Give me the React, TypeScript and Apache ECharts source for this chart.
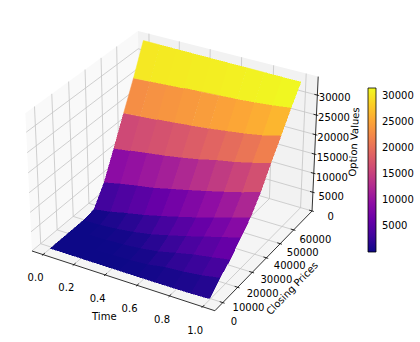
import React, { useEffect, useRef } from "react";
import * as echarts from "echarts";

// ---------- data ----------
const times = [0, 0.111, 0.222, 0.333, 0.444, 0.556, 0.667, 0.778, 0.889, 1];
const prices = [9200, 15990, 22780, 29570, 36360, 43150, 49940, 56730, 63520, 70310];
const z0 = [0, 0, 0, 0, 0, 5, 20, 60, 130, 300];
const z1 = [0, 0, 0, 40, 150, 450, 1250, 1550, 2100, 2950];
const z2 = [0, 0, 60, 250, 650, 1300, 2400, 3400, 4150, 4980];
const z3 = [0, 120, 480, 1050, 1850, 3000, 4200, 5500, 6800, 8040];
const z4 = [500, 1200, 2200, 3100, 4200, 5400, 6600, 7900, 9300, 10800];
const z5 = [5300, 6300, 7100, 7850, 8900, 9950, 11050, 12200, 13400, 14880];
const z6 = [12170, 12750, 13400, 14000, 14750, 15600, 16700, 17500, 18600, 19800];
const z7 = [19270, 19600, 19950, 20350, 20800, 21300, 21900, 22500, 23300, 24420];
const z8 = [26280, 26550, 26850, 27100, 27350, 27600, 27850, 28200, 28650, 29230];
const z9 = [33900, 33870, 33830, 33800, 33770, 33730, 33700, 33670, 33630, 33600];
const zRows = [z0, z1, z2, z3, z4, z5, z6, z7, z8, z9];

const timeTicks = [0, 0.2, 0.4, 0.6, 0.8, 1];
const priceTicks = [0, 10000, 20000, 30000, 40000, 50000, 60000];
const zTicks = [0, 5000, 10000, 15000, 20000, 25000, 30000];
const barTicks = [5000, 10000, 15000, 20000, 25000, 30000];
const plasma = ["#0d0887", "#41049d", "#6a00a8", "#8f0da4", "#b12a90", "#cc4778", "#e16462", "#f2844b", "#fca636", "#fcce25", "#f0f921"];

// ---------- matplotlib-like 3D projection ----------
const tLim = [-0.05, 1.05];
const pLim = [6200, 72700];
const zLim = [680, 33900];
const barMin = 0;
const barMax = 31400;
const PAD = 1 / 48;
const box = [1.143, 1.143, 0.857];
const n = [0.433, -0.75, 0.5];
const u = [0.866, 0.5, 0];
const v = [-0.25, 0.433, 0.866];
const dist = 10;
const SCALE = 176;
const CX = 174.6;
const CY = 164.1;

function projN(a: number, b: number, c: number): [number, number, number] {
  const p = [(a - 0.5) * box[0], (b - 0.5) * box[1], (c - 0.5) * box[2]];
  const X = u[0] * p[0] + u[1] * p[1] + u[2] * p[2];
  const Y = v[0] * p[0] + v[1] * p[1] + v[2] * p[2];
  const d = n[0] * p[0] + n[1] * p[1] + n[2] * p[2];
  const f = dist / (dist - d);
  return [CX + SCALE * X * f, CY - SCALE * Y * f, d];
}
const nt = (t: number) => (t - tLim[0]) / (tLim[1] - tLim[0]);
const np = (p: number) => (p - pLim[0]) / (pLim[1] - pLim[0]);
const nz = (z: number) => (z - zLim[0]) / (zLim[1] - zLim[0]);
const project = (t: number, p: number, z: number) => projN(nt(t), np(p), nz(z));

function hex(c: string) {
  return [1, 3, 5].map((i) => parseInt(c.slice(i, i + 2), 16));
}
function colorOf(val: number) {
  const f = Math.max(0, Math.min(1, (val - barMin) / (barMax - barMin))) * (plasma.length - 1);
  const i = Math.min(plasma.length - 2, Math.floor(f));
  const a = hex(plasma[i]);
  const b = hex(plasma[i + 1]);
  const w = f - i;
  return `rgb(${a.map((x, k) => Math.round(x + (b[k] - x) * w)).join(",")})`;
}

const TXT = "10px 'DejaVu Sans'";
const lo = -PAD;
const hi = 1 + PAD;

function seg(a: number[], b: number[], stroke: string, lineWidth: number) {
  return {
    type: "line",
    silent: true,
    shape: { x1: a[0], y1: a[1], x2: b[0], y2: b[1] },
    style: { stroke, lineWidth },
  };
}
function pane(points: number[][], fill: string) {
  return { type: "polygon", silent: true, shape: { points: points.map((q) => q.slice(0, 2)) }, style: { fill } };
}
function label(text: string, x: number, y: number, rotation = 0) {
  return {
    type: "text",
    silent: true,
    x,
    y,
    rotation,
    style: { text, x: 0, y: 0, textAlign: "center", textVerticalAlign: "middle", font: TXT, fill: "#000" },
  };
}

function buildFrame() {
  const P = (a: number, b: number, c: number) => projN(a, b, c);
  const kids: any[] = [];
  kids.push(pane([P(lo, lo, lo), P(lo, lo, hi), P(lo, hi, hi), P(lo, hi, lo)], "#f9f9f9"));
  kids.push(pane([P(lo, hi, lo), P(lo, hi, hi), P(hi, hi, hi), P(hi, hi, lo)], "#f2f2f2"));
  kids.push(pane([P(lo, lo, lo), P(hi, lo, lo), P(hi, hi, lo), P(lo, hi, lo)], "#f5f5f5"));
  const GRID = "#c4c4c4";
  const GW = 0.8;
  const INW = 0.2 / 12;
  const OUT = 0.1 / 12;
  const AX = "#000";
  timeTicks.forEach((t) => {
    const a = nt(t);
    kids.push(seg(P(a, lo, lo), P(a, hi, lo), GRID, GW));
    kids.push(seg(P(a, hi, lo), P(a, hi, hi), GRID, GW));
  });
  priceTicks.forEach((p) => {
    const b = np(p);
    if (b < lo) return;
    kids.push(seg(P(lo, b, lo), P(hi, b, lo), GRID, GW));
    kids.push(seg(P(lo, b, lo), P(lo, b, hi), GRID, GW));
  });
  zTicks.forEach((z) => {
    const c = nz(z);
    kids.push(seg(P(lo, lo, c), P(lo, hi, c), GRID, GW));
    kids.push(seg(P(lo, hi, c), P(hi, hi, c), GRID, GW));
  });
  kids.push(seg(P(lo, lo, lo), P(hi, lo, lo), AX, 0.8));
  kids.push(seg(P(hi, lo, lo), P(hi, hi, lo), AX, 0.8));
  kids.push(seg(P(hi, hi, lo), P(hi, hi, hi), AX, 0.8));
  timeTicks.forEach((t) => {
    const a = nt(t);
    kids.push(seg(P(a, lo - OUT * 1.2, lo), P(a, lo + INW, lo), AX, 0.8));
    const q = P(a, lo, lo);
    kids.push(label(t.toFixed(1), q[0] - 7.5, q[1] + 23.3));
  });
  priceTicks.forEach((p, i) => {
    const b = np(p);
    if (b >= lo) kids.push(seg(P(hi + OUT * 1.2, b, lo), P(hi - INW, b, lo), AX, 0.8));
    const q = P(hi, b, lo);
    kids.push(label(String(p), q[0] + 26.5 - 0.8 * i, q[1] + 3.5 + 1.1 * i));
  });
  zTicks.forEach((z, i) => {
    const c = nz(z);
    kids.push(seg(P(hi + OUT * 1.2, hi, c), P(hi - INW, hi, c), AX, 0.8));
    const q = P(hi, hi, c);
    kids.push(label(String(z), q[0] + 18.5 - 0.2 * i, q[1] + 5.2 - 0.5 * i));
  });
  kids.push(label("Time", 104.3, 316));
  kids.push(label("Closing Prices", 292, 288.3, (Math.PI / 180) * 46));
  kids.push(label("Option Values", 354, 142, (Math.PI / 180) * 87));
  return { type: "group", children: kids };
}

function buildCells() {
  const cells: { pts: number[][]; val: number; depth: number }[] = [];
  for (let j = 0; j < prices.length - 1; j++) {
    for (let i = 0; i < times.length - 1; i++) {
      const c = [
        [i, j],
        [i + 1, j],
        [i + 1, j + 1],
        [i, j + 1],
      ];
      const pr = c.map(([a, b]) => project(times[a], prices[b], zRows[b][a]));
      const val = c.reduce((s, [a, b]) => s + zRows[b][a], 0) / 4;
      const depth = pr.reduce((s, q) => s + q[2], 0) / 4;
      cells.push({ pts: pr.map((q) => [q[0], q[1]]), val, depth });
    }
  }
  return cells.sort((a, b) => a.depth - b.depth);
}

export default function App() {
  const ref = useRef<HTMLDivElement>(null);
  useEffect(() => {
    document.body.style.margin = "0";
    const chart = echarts.init(ref.current!, undefined, { renderer: "svg" });
    const cells = buildCells();
    const frame = buildFrame();
    const stops = plasma.map((color, i) => ({ offset: i / (plasma.length - 1), color }));
    chart.setOption({
      animation: false,
      backgroundColor: "#fff",
      tooltip: { show: false },
      grid: { left: 368, top: 88, width: 8, height: 164, show: false },
      xAxis: { type: "value", min: 0, max: 1, show: false },
      yAxis: {
        type: "value",
        position: "right",
        min: barMin,
        max: barMax,
        splitLine: { show: false },
        axisLine: { show: false },
        axisTick: { show: true, length: 3.5, customValues: barTicks, lineStyle: { color: "#000", width: 0.8 } },
        axisLabel: {
          show: true,
          margin: 6,
          customValues: barTicks,
          color: "#000",
          fontSize: 10,
          fontFamily: "DejaVu Sans",
          formatter: (val: number) => String(val),
        },
      },
      series: [
        {
          type: "custom",
          coordinateSystem: "none",
          silent: true,
          z: 1,
          data: [0],
          renderItem: () => frame,
        },
        {
          type: "custom",
          coordinateSystem: "none",
          silent: true,
          z: 2,
          data: cells.map((_, i) => i),
          renderItem: (params: any) => {
            const cell = cells[params.dataIndex];
            const fill = colorOf(cell.val);
            return {
              type: "polygon",
              shape: { points: cell.pts },
              style: { fill, stroke: fill, lineWidth: 0.5 },
            };
          },
        },
        {
          type: "custom",
          silent: true,
          z: 3,
          clip: false,
          encode: { x: 0, y: 1 },
          data: [[0, barMin]],
          renderItem: (_: any, api: any) => {
            const a = api.coord([0, barMax]);
            const b = api.coord([1, barMin]);
            return {
              type: "rect",
              shape: { x: a[0], y: a[1], width: b[0] - a[0], height: b[1] - a[1] },
              style: {
                fill: new echarts.graphic.LinearGradient(0, 1, 0, 0, stops),
                stroke: "#000",
                lineWidth: 0.8,
              },
            };
          },
        },
      ],
    });
    // the reference's surface is not antialiased: its edges are stepped
    ref.current!.querySelectorAll("path").forEach((el) => {
      const f = el.getAttribute("fill") || "";
      if (f.startsWith("rgb(") && !/^rgb\((249|242|245),/.test(f)) el.setAttribute("shape-rendering", "crispEdges");
    });
    return () => chart.dispose();
  }, []);
  return <div ref={ref} style={{ width: 420, height: 342, position: "absolute", left: 0, top: 0 }} />;
}
